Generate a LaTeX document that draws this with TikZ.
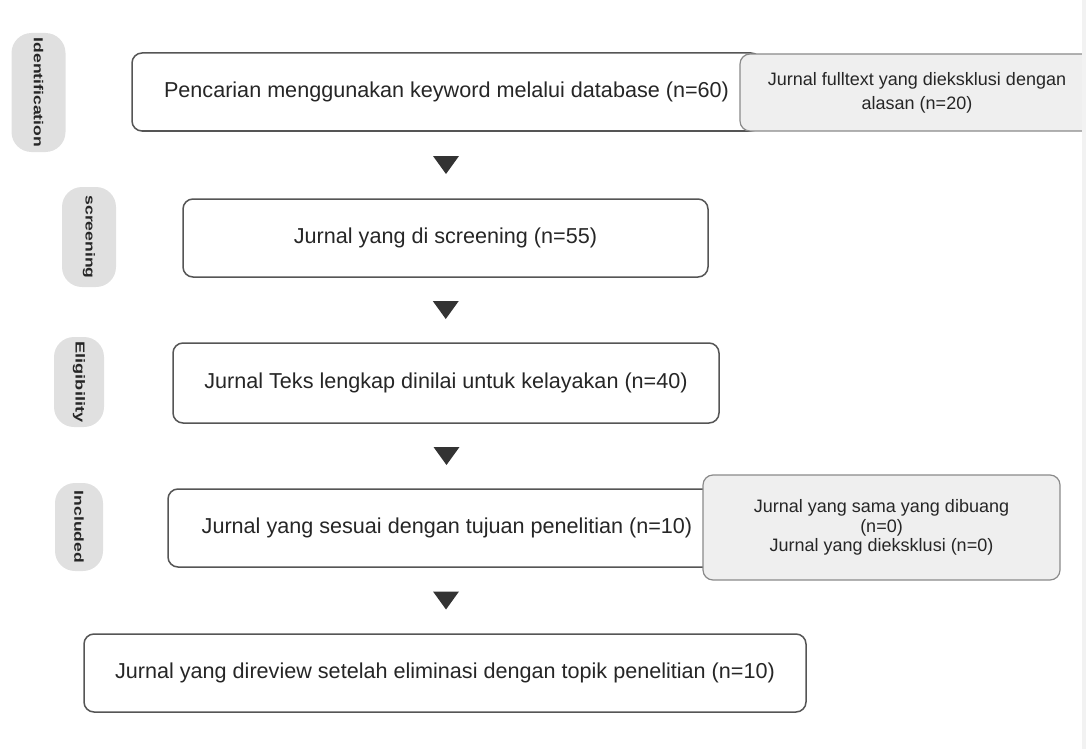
\documentclass[tikz,border=0pt]{standalone}
\usepackage{fontspec}
\setmainfont{Liberation Sans}
\usepackage{graphicx}
\usetikzlibrary{calc}
\definecolor{pillgray}{HTML}{E0E0E0}
\definecolor{notegray}{HTML}{EFEFEF}
\definecolor{edgegray}{HTML}{555555}
\definecolor{noteedge}{HTML}{8A8A8A}

\begin{document}
\begin{tikzpicture}[x=1pt, y=-1pt,
		stage/.style={draw=edgegray, line width=1.5pt, rounded corners=10pt, fill=white, inner sep=0pt, text=black!85, font=\fontsize{21.6}{25}\selectfont},
		note/.style={draw=noteedge, line width=1.2pt, rounded corners=10pt, fill=notegray, inner sep=0pt, align=center, text=black!85},
		phase/.style={fill=pillgray, rounded corners=20pt, inner sep=0pt, rotate=-90, text=black!85, font=\fontsize{13}{15}\selectfont\bfseries},
		marker/.style={fill=black!80}]
			\useasboundingbox (0,0) rectangle (1086,749);
			% phases
			\node[phase, minimum width=119pt, minimum height=54pt] (pid) at (38.5,92.5) {\scalebox{1.35}[1]{Identification}};
			\node[phase, minimum width=100pt, minimum height=54pt] (psc) at (89,237) {\scalebox{1.35}[1]{screening}};
			\node[phase, minimum width=90pt, minimum height=50pt] (pel) at (79,382) {\scalebox{1.4}[1]{Eligibility}};
			\node[phase, minimum width=88pt, minimum height=48pt] (pin) at (79,527) {\scalebox{1.35}[1]{Included}};
			% stages
			\node[stage, minimum width=629pt, minimum height=78pt] (b1) at (446.5,92) {Pencarian menggunakan keyword melalui database (n=60)};
			\node[stage, minimum width=525pt, minimum height=78pt] (b2) at (445.5,238) {Jurnal yang di screening (n=55)};
			\node[stage, minimum width=546pt, minimum height=80pt] (b3) at (446,383) {Jurnal Teks lengkap dinilai untuk kelayakan (n=40)};
			\node[stage, minimum width=558pt, minimum height=78pt] (b4) at (447,528) {Jurnal yang sesuai dengan tujuan penelitian (n=10)};
			\node[stage, minimum width=722pt, minimum height=78pt] (b5) at (445,673) {Jurnal yang direview setelah eliminasi dengan topik penelitian (n=10)};
			% exclusions
			\node[note, minimum width=354pt, minimum height=77pt, font=\fontsize{18}{24}\selectfont] (g1) at (917,92.5) {Jurnal fulltext yang dieksklusi dengan\\alasan (n=20)};
			\node[note, minimum width=357pt, minimum height=105pt, font=\fontsize{18}{19.5}\selectfont] (g2) at (881.5,527.5) {Jurnal yang sama yang dibuang\\(n=0)\\Jurnal yang dieksklusi (n=0)};
			% markers between stages
			\foreach \src/\dst in {b1/b2, b2/b3, b3/b4, b4/b5} {
				\coordinate (m) at ($(\src.south)!0.5!(\dst.north)$);
				\fill[marker] ($(m)+(-13,-9)$) -- ($(m)+(13,-9)$) -- ($(m)+(0,9)$) -- cycle;
			}
			\fill[gray!10] (1082,0) rectangle (1086,749);
		\end{tikzpicture}
\end{document}
